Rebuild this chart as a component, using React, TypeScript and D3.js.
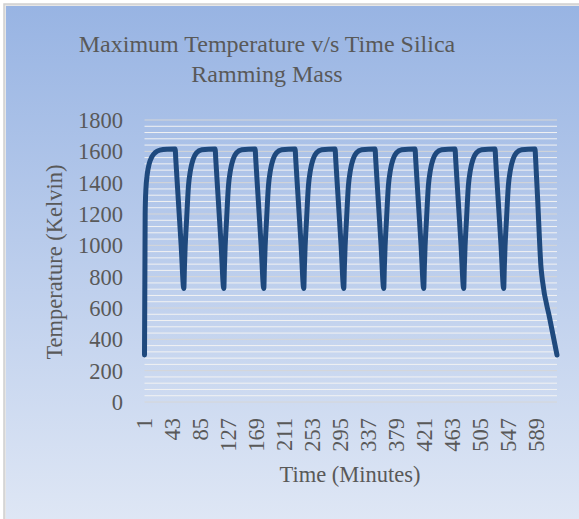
import React from "react";
import * as d3 from "d3";

const minutes: number[] = [
  1, 2, 3, 5, 8, 12, 17, 24, 35, 47, 48, 52, 56, 60,
  61, 62, 64, 67, 70, 74, 79, 87, 107, 108, 112, 116, 120,
  121, 122, 124, 127, 130, 134, 139, 147, 167, 168, 172, 176, 180,
  181, 182, 184, 187, 190, 194, 199, 207, 227, 228, 232, 236, 240,
  241, 242, 244, 247, 250, 254, 259, 267, 287, 288, 292, 296, 300,
  301, 302, 304, 307, 310, 314, 319, 327, 347, 348, 352, 356, 360,
  361, 362, 364, 367, 370, 374, 379, 387, 407, 408, 412, 416, 420,
  421, 422, 424, 427, 430, 434, 439, 447, 467, 468, 472, 476, 480,
  481, 482, 484, 487, 490, 494, 499, 507, 527, 528, 532, 536, 540,
  541, 542, 544, 547, 550, 554, 559, 567, 587, 588, 591, 596, 598, 609, 620,
];

const temperature: number[] = [
  300, 1200, 1350, 1450, 1520, 1565, 1592, 1608, 1614, 1615, 1545, 1272, 999, 725,
  870, 990, 1150, 1380, 1480, 1550, 1590, 1610, 1615, 1545, 1272, 999, 725,
  870, 990, 1150, 1380, 1480, 1550, 1590, 1610, 1615, 1545, 1272, 999, 725,
  870, 990, 1150, 1380, 1480, 1550, 1590, 1610, 1615, 1545, 1272, 999, 725,
  870, 990, 1150, 1380, 1480, 1550, 1590, 1610, 1615, 1545, 1272, 999, 725,
  870, 990, 1150, 1380, 1480, 1550, 1590, 1610, 1615, 1545, 1272, 999, 725,
  870, 990, 1150, 1380, 1480, 1550, 1590, 1610, 1615, 1545, 1272, 999, 725,
  870, 990, 1150, 1380, 1480, 1550, 1590, 1610, 1615, 1545, 1272, 999, 725,
  870, 990, 1150, 1380, 1480, 1550, 1590, 1610, 1615, 1545, 1272, 999, 725,
  870, 990, 1150, 1380, 1480, 1550, 1590, 1610, 1615, 1545, 1290, 860, 780, 535, 300,
];

const xTickLabels: number[] = [1, 43, 85, 127, 169, 211, 253, 295, 337, 379, 421, 463, 505, 547, 589];
const yTickLabels: number[] = [0, 200, 400, 600, 800, 1000, 1200, 1400, 1600, 1800];
const titleLines: string[] = ["Maximum Temperature v/s Time Silica", "Ramming Mass"];
const xTitle = "Time (Minutes)";
const yTitle = "Temperature (Kelvin)";

const W = 579;
const H = 519;
const FONT = "'Liberation Serif', 'Times New Roman', serif";
const TEXT = "#595959";

export default function App() {
  const x = d3.scaleLinear().domain([1, 620]).range([144.5, 557]);
  const y = d3.scaleLinear().domain([0, 1800]).range([402, 120]);
  const minor = d3.range(0, 1801, 40);
  const data = minutes.map((m, i) => [m, temperature[i]] as [number, number]);
  const line = d3
    .line<[number, number]>()
    .x((d) => x(d[0]))
    .y((d) => y(d[1]))
    .curve(d3.curveMonotoneX);

  return (
    <svg
      width={W}
      height={H}
      style={{ position: "absolute", left: 0, top: 0 }}
      fontFamily={FONT}
    >
      <defs>
        <linearGradient id="bg" x1="0" y1="0" x2="0" y2="1">
          <stop offset="0%" stopColor="#98b4e3" />
          <stop offset="100%" stopColor="#dfe7f5" />
        </linearGradient>
      </defs>
      <rect x={0} y={0} width={W} height={H} fill="#ffffff" />
      <rect x={4} y={4} width={W} height={H} fill="#e6e6e6" stroke="#cfcfcf" strokeWidth={1.5} />
      <rect x={6} y={6} width={W} height={H} fill="url(#bg)" />

      {titleLines.map((t, i) => (
        <text key={i} x={267} y={52 + i * 30} textAnchor="middle" fontSize={24} fill={TEXT}>
          {t}
        </text>
      ))}

      {minor.map((v) => (
        <line
          key={"m" + v}
          x1={x(1)}
          x2={x(620)}
          y1={y(v)}
          y2={y(v)}
          stroke={v % 200 === 0 ? "#d6d6d6" : "#f2f2f2"}
          strokeWidth={1}
        />
      ))}

      {yTickLabels.map((v) => (
        <text key={"y" + v} x={123} y={y(v)} dy="0.35em" textAnchor="end" fontSize={22.5} fill={TEXT}>
          {v}
        </text>
      ))}

      {xTickLabels.map((v) => (
        <text
          key={"x" + v}
          transform={`translate(${x(v)},418) rotate(-90)`}
          dy="0.35em"
          textAnchor="end"
          fontSize={22.5}
          fill={TEXT}
        >
          {v}
        </text>
      ))}

      <text x={350} y={482} textAnchor="middle" fontSize={22.5} fill={TEXT}>
        {xTitle}
      </text>
      <text
        transform={`translate(54,262) rotate(-90)`}
        dy="0.35em"
        textAnchor="middle"
        fontSize={22.5}
        fill={TEXT}
      >
        {yTitle}
      </text>

      <path
        d={line(data) || ""}
        fill="none"
        stroke="#1f497d"
        strokeWidth={5}
        strokeLinejoin="round"
        strokeLinecap="round"
      />
    </svg>
  );
}
